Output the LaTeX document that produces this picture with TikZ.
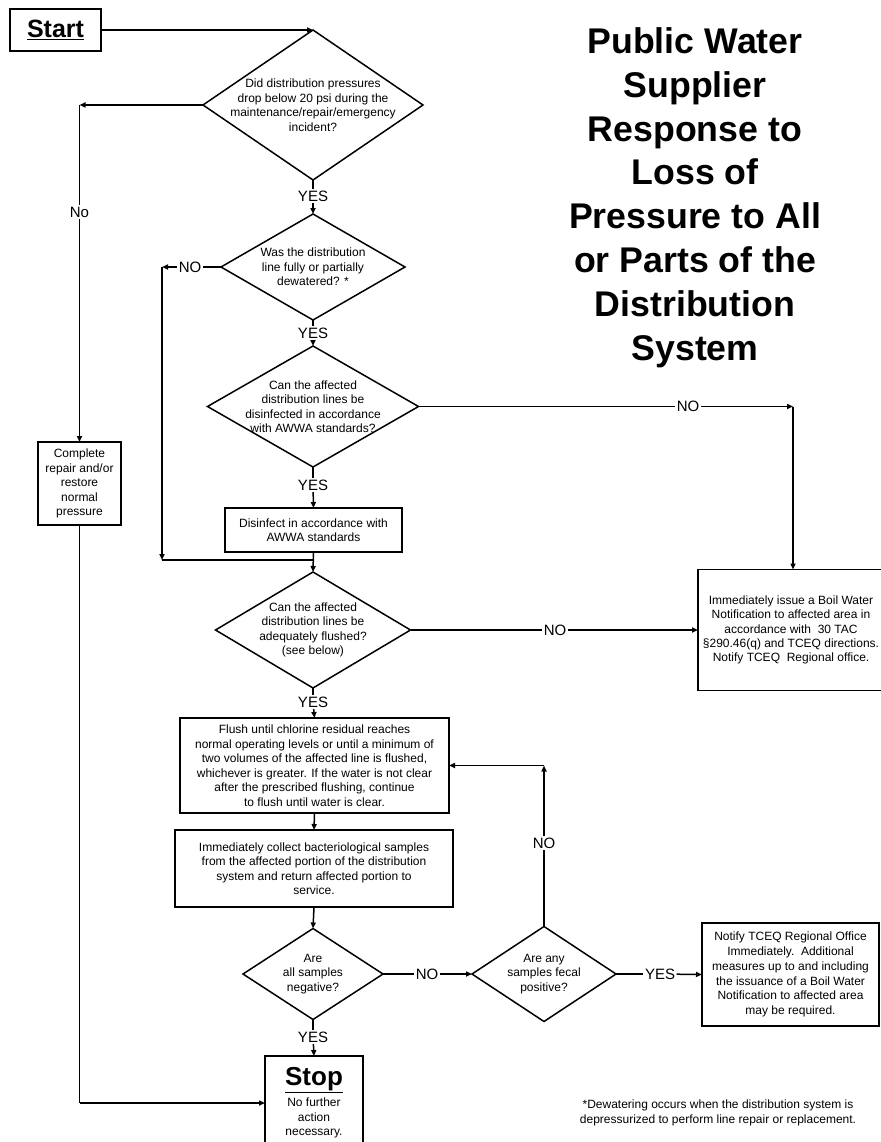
\documentclass[tikz,border=0pt]{standalone}
\usepackage{fontspec}
\setmainfont{Liberation Sans}
\usetikzlibrary{arrows.meta}
\begin{document}
\begin{tikzpicture}[x=1pt,y=-1pt,
  conn/.style={line width=1.5pt},
  arr/.style={line width=1.5pt,-{Triangle[length=6pt,width=5pt]}},
  box/.style={draw,line width=1.5pt,rectangle,inner sep=0pt,outer sep=0pt,align=center,font=\fontsize{12}{14.5}\selectfont},
  dia/.style={rectangle,inner sep=0pt,outer sep=0pt,align=center,font=\fontsize{12}{14.5}\selectfont},
  lbl/.style={inner sep=1.5pt,font=\fontsize{15}{17}\selectfont},
]
\useasboundingbox (0,0) rectangle (880,1142);

% title
\node[anchor=north,inner sep=0pt,align=center,font=\fontsize{35.7}{43.8}\selectfont\bfseries] (title) at (695,27.5)
  {Public Water\\Supplier\\Response to\\Loss of\\Pressure to All\\or Parts of the\\Distribution\\System};

% start
\node[box,line width=2pt,minimum width=91pt,minimum height=42pt,font=\fontsize{25}{28}\selectfont\bfseries] (start) at (55.5,30) {\underline{Start}};

% decisions
\node[dia,minimum width=220pt,minimum height=150pt] (d1) at (313,105)
  {Did distribution pressures\\drop below 20 psi during the\\maintenance/repair/emergency\\incident?};
\node[dia,minimum width=184pt,minimum height=106pt] (d2) at (313,267)
  {Was the distribution\\line fully or partially\\dewatered? *};
\node[dia,minimum width=211pt,minimum height=121pt] (d3) at (313,406.5)
  {Can the affected\\distribution lines be\\disinfected in accordance\\with AWWA standards?};
\node[dia,minimum width=195pt,minimum height=116pt] (d4) at (313,630)
  {Can the affected\\distribution lines be\\adequately flushed?\\(see below)};
\node[dia,minimum width=140pt,minimum height=91pt] (d5) at (313,974)
  {Are\\all samples\\negative?};
\node[dia,minimum width=144pt,minimum height=95pt] (d6) at (544,974)
  {Are any\\samples fecal\\positive?};
\foreach \n in {d1,d2,d3,d4,d5,d6}
  \draw[conn,line join=miter] (\n.north) -- (\n.east) -- (\n.south) -- (\n.west) -- cycle;

% process boxes
\node[box,minimum width=83pt,minimum height=83pt] (complete) at (79.5,483.5)
  {Complete\\repair and/or\\restore\\normal\\pressure};
\node[box,minimum width=177pt,minimum height=44pt] (disinfect) at (313.5,530)
  {Disinfect in accordance with\\AWWA standards};
\node[box,minimum width=269pt,minimum height=95pt] (flush) at (314.5,765.5)
  {Flush until chlorine residual reaches\\normal operating levels or until a minimum of\\two volumes of the affected line is flushed,\\whichever is greater. If the water is not clear\\after the prescribed flushing, continue\\to flush until water is clear.};
\node[box,minimum width=278pt,minimum height=77pt] (collect) at (314,868.5)
  {Immediately collect bacteriological samples\\from the affected portion of the distribution\\system and return affected portion to\\service.};
\node[box,minimum width=186pt,minimum height=121pt,font=\fontsize{12}{14.3}\selectfont] (boil) at (791,630)
  {Immediately issue a Boil Water\\Notification to affected area in\\accordance with\ \ 30 TAC\\§290.46(q) and TCEQ directions.\\Notify TCEQ\ \ Regional office.};
\node[box,minimum width=177pt,minimum height=103pt,font=\fontsize{12}{14.8}\selectfont] (notify) at (790.5,974.5)
  {Notify TCEQ Regional Office\\Immediately.\ \ Additional\\measures up to and including\\the issuance of a Boil Water\\Notification to affected area\\may be required.};
\node[box,anchor=north,minimum width=98pt,minimum height=94pt] (stop) at (314,1056)
  {{\fontsize{26}{28}\selectfont\bfseries\underline{Stop}}\\[4pt]No further\\action\\necessary.};

% footnote
\node[align=center,inner sep=0pt,font=\fontsize{12}{15.5}\selectfont] (foot) at (718,1113)
  {*Dewatering occurs when the distribution system is\\depressurized to perform line repair or replacement.};

% labels
\node[lbl] (yes1) at (313,196) {YES};
\node[lbl] (yes2) at (313,333) {YES};
\node[lbl] (yes3) at (313,485) {YES};
\node[lbl] (yes4) at (313,702) {YES};
\node[lbl] (yes5) at (313,1037) {YES};
\node[lbl] (yes6) at (660,974) {YES};
\node[lbl] (no1) at (79.5,212) {No};
\node[lbl] (no2) at (190,267) {NO};
\node[lbl] (no3) at (688,406.5) {NO};
\node[lbl] (no4) at (555,630) {NO};
\node[lbl] (no5) at (427,974) {NO};
\node[lbl] (no6) at (544,843) {NO};

% corner coordinates
\coordinate (c1) at (complete.north |- d1.west);
\coordinate (c1b) at (complete.south |- stop.west);
\coordinate (c2a) at (162,267);
\coordinate (c2b) at (162,560);
\coordinate (j) at (d4.north |- c2b);
\coordinate (c3) at (793,406.5);
\coordinate (c3b) at (c3 |- boil.north);
\coordinate (c6) at (d6.north |- flush.east);

% connectors
\draw[arr] (start.east) -- (d1.north);
\draw[conn] (d1.south) -- (yes1); \draw[arr] (yes1) -- (d2.north);
\draw[arr] (d1.west) -- (c1);
\draw[conn] (c1) -- (no1); \draw[arr] (no1) -- (complete.north);
\draw[conn] (complete.south) -- (c1b); \draw[arr] (c1b) -- (stop.west);
\draw[conn] (d2.west) -- (no2); \draw[arr] (no2) -- (c2a);
\draw[arr] (c2a) -- (c2b); \draw[conn] (c2b) -- (j);
\draw[conn] (d2.south) -- (yes2); \draw[arr] (yes2) -- (d3.north);
\draw[conn] (d3.east) -- (no3); \draw[arr] (no3) -- (c3); \draw[arr] (c3) -- (c3b);
\draw[conn] (d3.south) -- (yes3); \draw[arr] (yes3) -- (disinfect.north);
\draw[arr] (disinfect.south) -- (d4.north);
\draw[conn] (d4.east) -- (no4); \draw[arr] (no4) -- (boil.west);
\draw[conn] (d4.south) -- (yes4); \draw[arr] (yes4) -- (flush.north);
\draw[arr] (flush.south) -- (collect.north);
\draw[arr] (collect.south) -- (d5.north);
\draw[conn] (d5.south) -- (yes5); \draw[arr] (yes5) -- (stop.north);
\draw[conn] (d5.east) -- (no5); \draw[arr] (no5) -- (d6.west);
\draw[conn] (d6.east) -- (yes6); \draw[arr] (yes6) -- (notify.west);
\draw[conn] (d6.north) -- (no6); \draw[arr] (no6) -- (c6); \draw[arr] (c6) -- (flush.east);
\end{tikzpicture}
\end{document}
